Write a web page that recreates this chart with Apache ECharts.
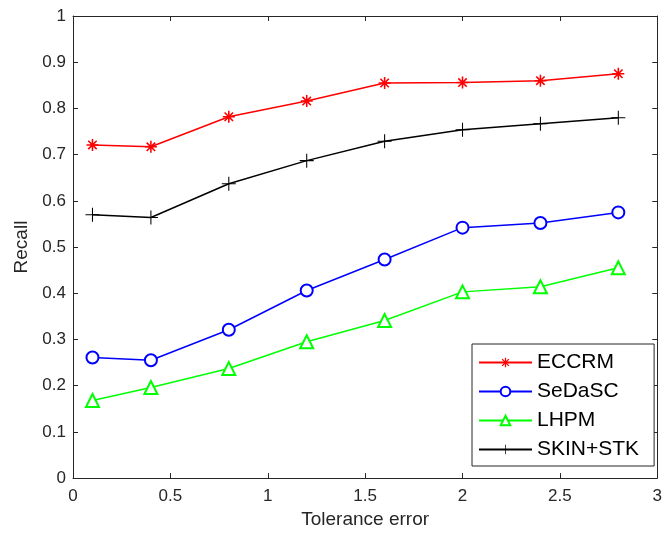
<!DOCTYPE html>
<html>
<head>
<meta charset="utf-8">
<script src="https://cdn.jsdelivr.net/npm/echarts@6/dist/echarts.min.js"></script>
<style>
  html, body { margin: 0; padding: 0; background: #fff; }
  #chart { width: 665px; height: 534px; }
</style>
</head>
<body>
<div id="chart"></div>
<script>
// recall vs tolerance error, four methods
const tolerance = [0.1, 0.4, 0.8, 1.2, 1.6, 2.0, 2.4, 2.8]
const eccrm = [0.721, 0.717, 0.782, 0.816, 0.855, 0.856, 0.860, 0.875]
const sedasc = [0.261, 0.255, 0.321, 0.406, 0.473, 0.542, 0.552, 0.575]
const lhpm = [0.168, 0.196, 0.237, 0.295, 0.341, 0.403, 0.414, 0.455]
const skinStk = [0.570, 0.564, 0.637, 0.687, 0.729, 0.754, 0.767, 0.780]

const FONT = '"Liberation Sans", Arial, sans-serif'
const AXIS = '#262626'

// filled paths so '*' and '+' markers render as strokes
const STAR = 'path://M10,1.3L10,-1.3L-10,-1.3L-10,1.3Z' +
  'M-1.3,10L1.3,10L1.3,-10L-1.3,-10Z' +
  'M6.08,7.99L7.99,6.08L-6.08,-7.99L-7.99,-6.08Z' +
  'M-7.99,6.08L-6.08,7.99L7.99,-6.08L6.08,-7.99Z'
const PLUS = 'path://M10,0.75L10,-0.75L-10,-0.75L-10,0.75Z' +
  'M-0.75,10L0.75,10L0.75,-10L-0.75,-10Z'

const pairs = (ys) => tolerance.map((x, i) => [x, ys[i]])

const box = (extra) => Object.assign({
  axisLine: { show: true, onZero: false, lineStyle: { color: AXIS, width: 1 } },
  axisTick: { show: true, inside: true, length: 5, lineStyle: { color: AXIS } },
  splitLine: { show: false },
}, extra)

const chart = echarts.init(document.getElementById('chart'))
chart.setOption({
  animation: false,
  backgroundColor: '#fff',
  textStyle: { fontFamily: FONT },
  grid: { left: 73, right: 6, top: 16, bottom: 55 },
  legend: {
    orient: 'vertical', left: 472, top: 344,
    padding: [8, 15, 6, 6], itemGap: 8,
    itemWidth: 53, itemHeight: 12,
    borderColor: AXIS, borderWidth: 1, backgroundColor: '#fff',
    textStyle: { fontSize: 21, color: '#000', fontFamily: FONT },
    data: ['ECCRM', 'SeDaSC', 'LHPM', 'SKIN+STK'],
  },
  xAxis: [
    box({
      type: 'value', min: 0, max: 3, interval: 0.5,
      name: 'Tolerance error', nameLocation: 'middle', nameGap: 29,
      nameTextStyle: { fontSize: 19, color: AXIS },
      axisLabel: { fontSize: 17, color: AXIS, margin: 10 },
    }),
    box({ type: 'value', position: 'top', min: 0, max: 3, interval: 0.5, axisLabel: { show: false } }),
  ],
  yAxis: [
    box({
      type: 'value', min: 0, max: 1, interval: 0.1,
      name: 'Recall', nameLocation: 'middle', nameGap: 33,
      nameTextStyle: { fontSize: 19, color: AXIS },
      axisLabel: { fontSize: 17, color: AXIS, margin: 7 },
    }),
    box({ type: 'value', position: 'right', min: 0, max: 1, interval: 0.1, axisLabel: { show: false } }),
  ],
  series: [
    {
      name: 'ECCRM', type: 'line', data: pairs(eccrm),
      symbol: STAR, symbolSize: 12,
      lineStyle: { color: '#ff0000', width: 1.5 }, itemStyle: { color: '#ff0000' },
    },
    {
      name: 'SeDaSC', type: 'line', data: pairs(sedasc),
      symbol: 'emptyCircle', symbolSize: 12,
      lineStyle: { color: '#0000ff', width: 1.5 }, itemStyle: { color: '#0000ff', borderWidth: 1.5 },
    },
    {
      name: 'LHPM', type: 'line', data: pairs(lhpm),
      symbol: 'emptyTriangle', symbolSize: 13,
      lineStyle: { color: '#00ff00', width: 1.5 }, itemStyle: { color: '#00ff00', borderWidth: 1.5 },
    },
    {
      name: 'SKIN+STK', type: 'line', data: pairs(skinStk),
      symbol: PLUS, symbolSize: 14,
      lineStyle: { color: '#000000', width: 1.5 }, itemStyle: { color: '#000000' },
    },
  ],
})
</script>
</body>
</html>
